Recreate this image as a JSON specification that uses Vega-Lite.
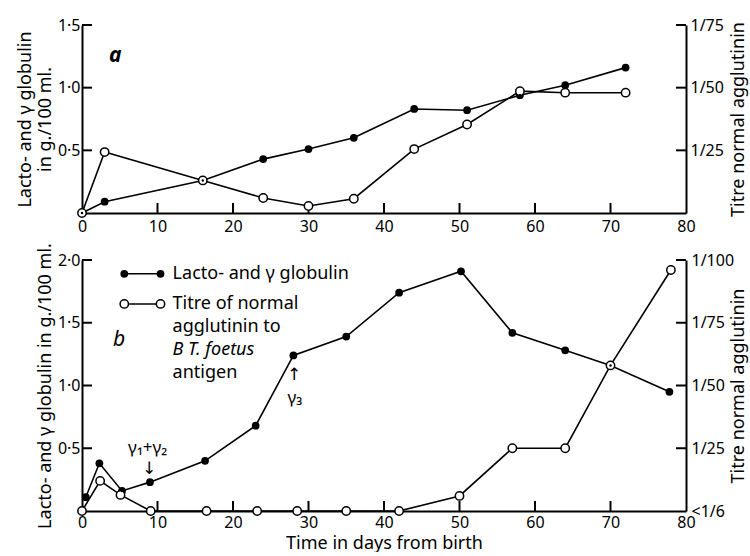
{
  "$schema": "https://vega.github.io/schema/vega-lite/v6.json",
  "background": "white",
  "padding": {"left": 16, "top": 17, "right": 2, "bottom": 0},
  "spacing": 8,
  "config": {
    "font": "Noto Sans",
    "view": {"stroke": null},
    "axis": {
      "labelFont": "Noto Sans", "labelFontSize": 16, "labelColor": "black",
      "titleFont": "Noto Sans", "titleFontSize": 18, "titleFontWeight": "normal", "titleColor": "black",
      "domainColor": "black", "domainWidth": 2, "ticks": false, "tickSize": 0,
      "grid": false, "labelFlush": false, "labelOverlap": false
    },
    "tick": {"opacity": 1, "color": "black", "thickness": 2}
  },
  "datasets": {
    "a_glob": [
      {"day": 0, "g": 0}, {"day": 3, "g": 0.09}, {"day": 16, "g": 0.26}, {"day": 24, "g": 0.43},
      {"day": 30, "g": 0.51}, {"day": 36, "g": 0.6}, {"day": 44, "g": 0.83}, {"day": 51, "g": 0.82},
      {"day": 58, "g": 0.94}, {"day": 64, "g": 1.02}, {"day": 72, "g": 1.16}
    ],
    "a_titre": [
      {"day": 0, "t": 0}, {"day": 3, "t": 24.3}, {"day": 16, "t": 13}, {"day": 24, "t": 6},
      {"day": 30, "t": 2.8}, {"day": 36, "t": 5.7}, {"day": 44, "t": 25.5}, {"day": 51, "t": 35.3},
      {"day": 58, "t": 48.6}, {"day": 64, "t": 48}, {"day": 72, "t": 48}
    ],
    "b_glob": [
      {"day": 0.5, "g": 0.11}, {"day": 2.3, "g": 0.38}, {"day": 5.3, "g": 0.16}, {"day": 9, "g": 0.23},
      {"day": 16.3, "g": 0.4}, {"day": 23, "g": 0.68}, {"day": 28, "g": 1.24}, {"day": 35, "g": 1.39},
      {"day": 42, "g": 1.74}, {"day": 50.2, "g": 1.91}, {"day": 57, "g": 1.42}, {"day": 64, "g": 1.28},
      {"day": 70, "g": 1.16}, {"day": 77.8, "g": 0.95}
    ],
    "b_titre": [
      {"day": 0, "t": 0}, {"day": 2.4, "t": 12}, {"day": 5.1, "t": 6.4}, {"day": 9.1, "t": 0},
      {"day": 16.5, "t": 0}, {"day": 23.2, "t": 0}, {"day": 28.5, "t": 0}, {"day": 35, "t": 0},
      {"day": 42, "t": 0}, {"day": 50, "t": 6}, {"day": 57, "t": 25}, {"day": 64, "t": 25},
      {"day": 70, "t": 58}, {"day": 78, "t": 96}
    ],
    "x_ticks": [{"day": 10}, {"day": 20}, {"day": 30}, {"day": 40}, {"day": 50}, {"day": 60}, {"day": 70}],
    "a_lticks": [{"g": 0.5}, {"g": 1}, {"g": 1.5}],
    "a_rticks": [{"t": 25}, {"t": 50}, {"t": 75}],
    "b_lticks": [{"g": 0.5}, {"g": 1}, {"g": 1.5}, {"g": 2}],
    "b_rticks": [{"t": 25}, {"t": 50}, {"t": 75}, {"t": 100}],
    "a_label": [{"day": 4.4, "g": 1.25, "label": "a"}],
    "b_label": [{"day": 4.9, "g": 1.36, "label": "b"}],
    "b_notes": [
      {"day": 8.7, "g": 0.505, "label": "γ₁+γ₂"},
      {"day": 28.2, "g": 0.9, "label": "γ₃"}
    ],
    "b_arrows": [
      {"day": 8.9, "g": 0.335, "label": "↓"},
      {"day": 28.1, "g": 1.08, "label": "↑"}
    ],
    "leg_glob": [{"day": 5.6, "g": 1.89}, {"day": 10.4, "g": 1.89}],
    "leg_titre": [{"day": 5.6, "g": 1.65}, {"day": 10.4, "g": 1.65}],
    "leg_text": [
      {"day": 12, "g": 1.89, "label": "Lacto- and γ globulin"},
      {"day": 12, "g": 1.65, "label": "Titre of normal"},
      {"day": 12, "g": 1.47, "label": "agglutinin to"},
      {"day": 12, "g": 1.1, "label": "antigen"}
    ],
    "leg_italic": [{"day": 12, "g": 1.28, "label": "B T. foetus"}]
  },
  "vconcat": [
    {
      "width": 604, "height": 188,
      "layer": [
        {"data": {"name": "a_glob"}, "mark": {"type": "line", "color": "black", "strokeWidth": 1.6},
          "encoding": {
            "x": {"field": "day", "type": "quantitative", "scale": {"domain": [0, 80], "nice": false},
              "axis": {"orient": "bottom", "values": [0, 10, 20, 30, 40, 50, 60, 70, 80], "labelPadding": 5, "title": null}},
            "y": {"field": "g", "type": "quantitative", "scale": {"domain": [0, 1.5], "nice": false},
              "axis": {"orient": "left", "values": [0.5, 1, 1.5], "labelPadding": 2,
                "labelExpr": "replace(format(datum.value, '.1f'), '.', '·')",
                "title": ["Lacto- and γ globulin", "in g./100 ml."], "titlePadding": 3}}}},
        {"data": {"name": "a_titre"}, "mark": {"type": "line", "color": "black", "strokeWidth": 1.6},
          "encoding": {
            "x": {"field": "day", "type": "quantitative", "scale": {"domain": [0, 80], "nice": false}, "axis": null},
            "y": {"field": "t", "type": "quantitative", "scale": {"domain": [0, 75], "nice": false},
              "axis": {"orient": "right", "values": [25, 50, 75], "labelPadding": 4,
                "labelExpr": "'1/' + datum.value",
                "title": "Titre normal agglutinin", "titleAngle": -90, "titleX": 43, "titleBaseline": "top"}}}},
        {"data": {"name": "x_ticks"}, "mark": {"type": "tick", "orient": "vertical", "size": 10, "yOffset": -5},
          "encoding": {
            "x": {"field": "day", "type": "quantitative", "scale": {"domain": [0, 80], "nice": false}, "axis": null},
            "y": {"datum": 0, "type": "quantitative", "scale": {"domain": [0, 1.5], "nice": false}, "axis": null}}},
        {"data": {"name": "a_lticks"}, "mark": {"type": "tick", "orient": "horizontal", "size": 10, "xOffset": 5},
          "encoding": {
            "x": {"datum": 0, "type": "quantitative", "scale": {"domain": [0, 80], "nice": false}, "axis": null},
            "y": {"field": "g", "type": "quantitative", "scale": {"domain": [0, 1.5], "nice": false}, "axis": null}}},
        {"data": {"name": "a_rticks"}, "mark": {"type": "tick", "orient": "horizontal", "size": 10, "xOffset": -5},
          "encoding": {
            "x": {"datum": 80, "type": "quantitative", "scale": {"domain": [0, 80], "nice": false}, "axis": null},
            "y": {"field": "t", "type": "quantitative", "scale": {"domain": [0, 75], "nice": false}, "axis": null}}},
        {"data": {"name": "a_glob"}, "mark": {"type": "point", "filled": true, "color": "black", "opacity": 1, "size": 60},
          "encoding": {
            "x": {"field": "day", "type": "quantitative", "scale": {"domain": [0, 80], "nice": false}, "axis": null},
            "y": {"field": "g", "type": "quantitative", "scale": {"domain": [0, 1.5], "nice": false}, "axis": null}}},
        {"data": {"name": "a_titre"}, "mark": {"type": "point", "shape": "circle", "fill": "white", "stroke": "black", "strokeWidth": 1.5, "opacity": 1, "size": 70},
          "encoding": {
            "x": {"field": "day", "type": "quantitative", "scale": {"domain": [0, 80], "nice": false}, "axis": null},
            "y": {"field": "t", "type": "quantitative", "scale": {"domain": [0, 75], "nice": false}, "axis": null}}},
        {"data": {"name": "a_glob"}, "mark": {"type": "circle", "color": "black", "opacity": 1, "size": 6},
          "encoding": {
            "x": {"field": "day", "type": "quantitative", "scale": {"domain": [0, 80], "nice": false}, "axis": null},
            "y": {"field": "g", "type": "quantitative", "scale": {"domain": [0, 1.5], "nice": false}, "axis": null}}},
        {"data": {"name": "a_label"}, "mark": {"type": "text", "fontSize": 21, "fontStyle": "italic", "fontWeight": "bold", "color": "black"},
          "encoding": {
            "x": {"field": "day", "type": "quantitative", "scale": {"domain": [0, 80], "nice": false}, "axis": null},
            "y": {"field": "g", "type": "quantitative", "scale": {"domain": [0, 1.5], "nice": false}, "axis": null},
            "text": {"field": "label"}}}
      ],
      "resolve": {"scale": {"x": "independent", "y": "independent"}}
    },
    {
      "width": 604, "height": 251,
      "layer": [
        {"data": {"name": "b_glob"}, "mark": {"type": "line", "color": "black", "strokeWidth": 1.6},
          "encoding": {
            "x": {"field": "day", "type": "quantitative", "scale": {"domain": [0, 80], "nice": false},
              "axis": {"orient": "bottom", "values": [0, 10, 20, 30, 40, 50, 60, 70, 80], "labelPadding": 3,
                "title": "Time in days from birth", "titlePadding": 4}},
            "y": {"field": "g", "type": "quantitative", "scale": {"domain": [0, 2], "nice": false},
              "axis": {"orient": "left", "values": [0.5, 1, 1.5, 2], "labelPadding": 2,
                "labelExpr": "replace(format(datum.value, '.1f'), '.', '·')",
                "title": "Lacto- and γ globulin in g./100 ml.", "titlePadding": 3}}}},
        {"data": {"name": "b_titre"}, "mark": {"type": "line", "color": "black", "strokeWidth": 1.6},
          "encoding": {
            "x": {"field": "day", "type": "quantitative", "scale": {"domain": [0, 80], "nice": false}, "axis": null},
            "y": {"field": "t", "type": "quantitative", "scale": {"domain": [0, 100], "nice": false},
              "axis": {"orient": "right", "values": [0, 25, 50, 75, 100], "labelPadding": 5,
                "labelExpr": "datum.value == 0 ? '<1/6' : '1/' + datum.value",
                "title": "Titre normal agglutinin", "titleAngle": -90, "titleX": 43, "titleBaseline": "top"}}}},
        {"data": {"name": "x_ticks"}, "mark": {"type": "tick", "orient": "vertical", "size": 10, "yOffset": -5},
          "encoding": {
            "x": {"field": "day", "type": "quantitative", "scale": {"domain": [0, 80], "nice": false}, "axis": null},
            "y": {"datum": 0, "type": "quantitative", "scale": {"domain": [0, 2], "nice": false}, "axis": null}}},
        {"data": {"name": "b_lticks"}, "mark": {"type": "tick", "orient": "horizontal", "size": 10, "xOffset": 5},
          "encoding": {
            "x": {"datum": 0, "type": "quantitative", "scale": {"domain": [0, 80], "nice": false}, "axis": null},
            "y": {"field": "g", "type": "quantitative", "scale": {"domain": [0, 2], "nice": false}, "axis": null}}},
        {"data": {"name": "b_rticks"}, "mark": {"type": "tick", "orient": "horizontal", "size": 10, "xOffset": -5},
          "encoding": {
            "x": {"datum": 80, "type": "quantitative", "scale": {"domain": [0, 80], "nice": false}, "axis": null},
            "y": {"field": "t", "type": "quantitative", "scale": {"domain": [0, 100], "nice": false}, "axis": null}}},
        {"data": {"name": "b_glob"}, "mark": {"type": "point", "filled": true, "color": "black", "opacity": 1, "size": 60},
          "encoding": {
            "x": {"field": "day", "type": "quantitative", "scale": {"domain": [0, 80], "nice": false}, "axis": null},
            "y": {"field": "g", "type": "quantitative", "scale": {"domain": [0, 2], "nice": false}, "axis": null}}},
        {"data": {"name": "b_titre"}, "mark": {"type": "point", "shape": "circle", "fill": "white", "stroke": "black", "strokeWidth": 1.5, "opacity": 1, "size": 70},
          "encoding": {
            "x": {"field": "day", "type": "quantitative", "scale": {"domain": [0, 80], "nice": false}, "axis": null},
            "y": {"field": "t", "type": "quantitative", "scale": {"domain": [0, 100], "nice": false}, "axis": null}}},
        {"data": {"name": "b_glob"}, "mark": {"type": "circle", "color": "black", "opacity": 1, "size": 6},
          "encoding": {
            "x": {"field": "day", "type": "quantitative", "scale": {"domain": [0, 80], "nice": false}, "axis": null},
            "y": {"field": "g", "type": "quantitative", "scale": {"domain": [0, 2], "nice": false}, "axis": null}}},
        {"data": {"name": "leg_glob"}, "mark": {"type": "line", "color": "black", "strokeWidth": 1.6, "point": {"filled": true, "color": "black", "opacity": 1, "size": 60}},
          "encoding": {
            "x": {"field": "day", "type": "quantitative", "scale": {"domain": [0, 80], "nice": false}, "axis": null},
            "y": {"field": "g", "type": "quantitative", "scale": {"domain": [0, 2], "nice": false}, "axis": null}}},
        {"data": {"name": "leg_titre"}, "mark": {"type": "line", "color": "black", "strokeWidth": 1.6},
          "encoding": {
            "x": {"field": "day", "type": "quantitative", "scale": {"domain": [0, 80], "nice": false}, "axis": null},
            "y": {"field": "g", "type": "quantitative", "scale": {"domain": [0, 2], "nice": false}, "axis": null}}},
        {"data": {"name": "leg_titre"}, "mark": {"type": "point", "shape": "circle", "fill": "white", "stroke": "black", "strokeWidth": 1.5, "opacity": 1, "size": 70},
          "encoding": {
            "x": {"field": "day", "type": "quantitative", "scale": {"domain": [0, 80], "nice": false}, "axis": null},
            "y": {"field": "g", "type": "quantitative", "scale": {"domain": [0, 2], "nice": false}, "axis": null}}},
        {"data": {"name": "b_label"}, "mark": {"type": "text", "fontSize": 21, "fontStyle": "italic", "color": "black"},
          "encoding": {
            "x": {"field": "day", "type": "quantitative", "scale": {"domain": [0, 80], "nice": false}, "axis": null},
            "y": {"field": "g", "type": "quantitative", "scale": {"domain": [0, 2], "nice": false}, "axis": null},
            "text": {"field": "label"}}},
        {"data": {"name": "b_notes"}, "mark": {"type": "text", "fontSize": 17, "color": "black"},
          "encoding": {
            "x": {"field": "day", "type": "quantitative", "scale": {"domain": [0, 80], "nice": false}, "axis": null},
            "y": {"field": "g", "type": "quantitative", "scale": {"domain": [0, 2], "nice": false}, "axis": null},
            "text": {"field": "label"}}},
        {"data": {"name": "b_arrows"}, "mark": {"type": "text", "fontSize": 17, "font": "DejaVu Sans", "color": "black"},
          "encoding": {
            "x": {"field": "day", "type": "quantitative", "scale": {"domain": [0, 80], "nice": false}, "axis": null},
            "y": {"field": "g", "type": "quantitative", "scale": {"domain": [0, 2], "nice": false}, "axis": null},
            "text": {"field": "label"}}},
        {"data": {"name": "leg_text"}, "mark": {"type": "text", "fontSize": 18, "align": "left", "baseline": "middle", "color": "black"},
          "encoding": {
            "x": {"field": "day", "type": "quantitative", "scale": {"domain": [0, 80], "nice": false}, "axis": null},
            "y": {"field": "g", "type": "quantitative", "scale": {"domain": [0, 2], "nice": false}, "axis": null},
            "text": {"field": "label"}}},
        {"data": {"name": "leg_italic"}, "mark": {"type": "text", "fontSize": 18, "fontStyle": "italic", "align": "left", "baseline": "middle", "color": "black"},
          "encoding": {
            "x": {"field": "day", "type": "quantitative", "scale": {"domain": [0, 80], "nice": false}, "axis": null},
            "y": {"field": "g", "type": "quantitative", "scale": {"domain": [0, 2], "nice": false}, "axis": null},
            "text": {"field": "label"}}}
      ],
      "resolve": {"scale": {"x": "independent", "y": "independent"}}
    }
  ]
}
